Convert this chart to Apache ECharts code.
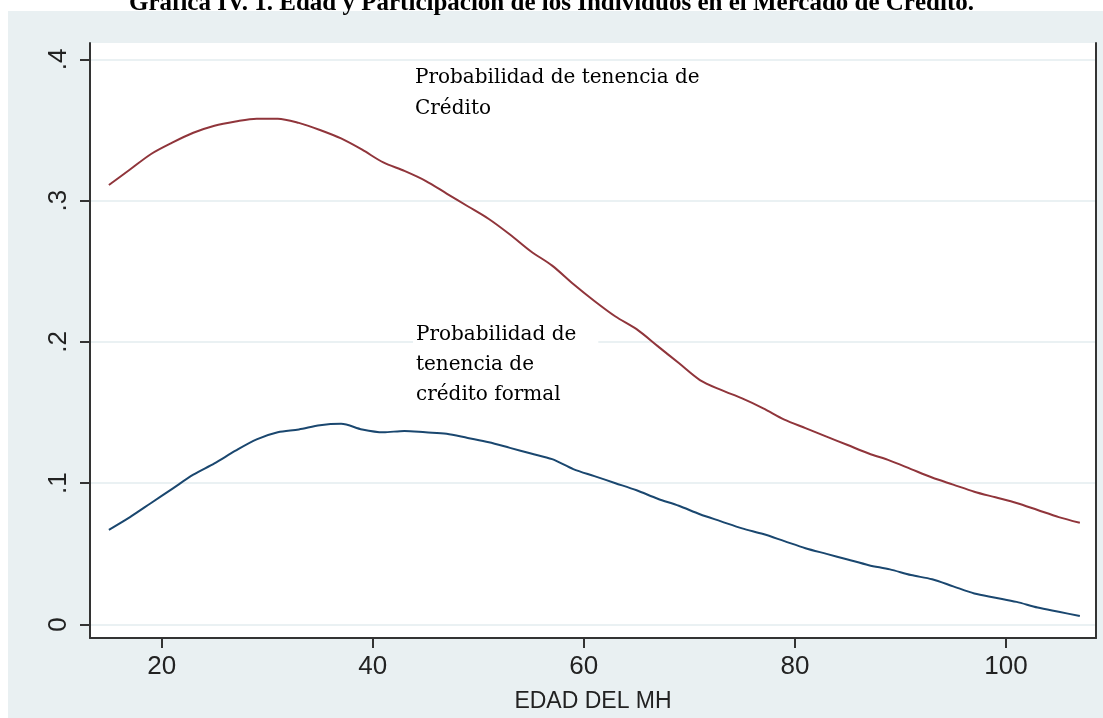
<!DOCTYPE html>
<html>
<head>
<meta charset="utf-8">
<script src="https://cdn.jsdelivr.net/npm/echarts@6/dist/echarts.min.js"></script>
<style>
html,body{margin:0;padding:0;background:#ffffff;}
#bg{position:absolute;left:8px;top:11px;width:1095px;height:707px;background:#e9f0f2;}
#c{position:absolute;left:0;top:0;width:1103px;height:718px;}
</style>
</head>
<body>
<div id="bg"></div>
<div id="c"></div>
<script>
// ---- data ----
const ages = [15,17,19,21,23,25,27,29,31,33,35,37,39,41,43,45,47,49,51,53,55,57,59,61,63,65,67,69,71,73,75,77,79,81,83,85,87,89,91,93,95,97,99,101,103,105,107];
const credito = [0.311,0.322,0.333,0.341,0.348,0.353,0.356,0.358,0.358,0.355,0.350,0.344,0.336,0.327,0.321,0.314,0.305,0.296,0.287,0.276,0.264,0.254,0.241,0.229,0.218,0.209,0.197,0.185,0.173,0.166,0.160,0.153,0.145,0.139,0.133,0.127,0.121,0.116,0.110,0.104,0.099,0.094,0.090,0.086,0.081,0.076,0.072];
const formal = [0.067,0.076,0.086,0.096,0.106,0.114,0.123,0.131,0.136,0.138,0.141,0.142,0.138,0.136,0.137,0.136,0.135,0.132,0.129,0.125,0.121,0.117,0.110,0.105,0.100,0.095,0.089,0.084,0.078,0.073,0.068,0.064,0.059,0.054,0.050,0.046,0.042,0.039,0.035,0.032,0.027,0.022,0.019,0.016,0.012,0.009,0.006];
const xTicks = [20,40,60,80,100];
const yTickLabels = {'0':'0','0.1':'.1','0.2':'.2','0.3':'.3','0.4':'.4'};
const titleText = 'Gráfica IV. 1. Edad y Participación de los Individuos en el Mercado de Crédito.';
const xName = 'EDAD DEL MH';
const annot1 = ['Probabilidad de tenencia de', 'Crédito'];
const annot2 = ['Probabilidad de', 'tenencia de', 'crédito formal'];

const xMin = 13.21, xMax = 108.53;
const axisColor = '#333333';
const sans = '"Liberation Sans", Arial, sans-serif';
const serif = '"DejaVu Serif", serif';

const chart = echarts.init(document.getElementById('c'), null, {renderer: 'canvas'});
chart.setOption({
  backgroundColor: 'transparent',
  animation: false,
  title: {
    text: titleText, left: 'center', top: -14,
    textStyle: {fontFamily: '"Liberation Serif", "Times New Roman", serif', fontWeight: 'bold', fontSize: 25, color: '#000'}
  },
  grid: [
    {left: 90, right: 7, top: 43, bottom: 76, show: true, backgroundColor: '#ffffff', borderWidth: 0},
    {left: 90, right: 7, top: 59.3, bottom: 93.5, show: false}
  ],
  xAxis: [
    {
      gridIndex: 0, type: 'value', min: xMin, max: xMax,
      axisLine: {show: true, lineStyle: {color: axisColor, width: 2}},
      axisTick: {show: true, customValues: xTicks, length: 10, lineStyle: {color: axisColor, width: 2}},
      axisLabel: {show: true, customValues: xTicks, fontFamily: sans, fontSize: 26, color: '#222', margin: 16},
      splitLine: {show: false},
      name: xName, nameLocation: 'middle', nameGap: 52,
      nameTextStyle: {fontFamily: sans, fontSize: 23, color: '#222'}
    },
    {
      gridIndex: 1, type: 'value', min: xMin, max: xMax, show: false
    }
  ],
  yAxis: [
    {
      gridIndex: 0, type: 'value', min: 0, max: 1, position: 'left',
      axisLine: {show: true, lineStyle: {color: axisColor, width: 2}},
      axisTick: {show: false}, axisLabel: {show: false}, splitLine: {show: false}
    },
    {
      gridIndex: 0, type: 'value', min: 0, max: 1, position: 'right',
      axisLine: {show: true, lineStyle: {color: axisColor, width: 2}},
      axisTick: {show: false}, axisLabel: {show: false}, splitLine: {show: false}
    },
    {
      gridIndex: 1, type: 'value', min: 0, max: 0.4, interval: 0.1, position: 'left',
      axisLine: {show: false},
      axisTick: {show: true, length: 10, lineStyle: {color: axisColor, width: 2}},
      axisLabel: {
        show: true, rotate: 90, margin: 18, fontFamily: sans, fontSize: 26, color: '#222',
        formatter: v => yTickLabels[String(Math.round(v * 10) / 10)]
      },
      splitLine: {show: true, lineStyle: {color: '#e3ecef', width: 1.5}}
    }
  ],
  series: [
    {
      type: 'line', xAxisIndex: 1, yAxisIndex: 2, showSymbol: false, smooth: 0.3,
      data: ages.map((a, i) => [a, credito[i]]),
      lineStyle: {color: '#90353b', width: 2}, itemStyle: {color: '#90353b'}, z: 3
    },
    {
      type: 'line', xAxisIndex: 1, yAxisIndex: 2, showSymbol: false, smooth: 0.3,
      data: ages.map((a, i) => [a, formal[i]]),
      lineStyle: {color: '#1a476f', width: 2}, itemStyle: {color: '#1a476f'}, z: 3
    }
  ],
  graphic: [
    {
      type: 'text', x: 415, y: 62, z: 10,
      style: {text: annot1.join('\n'), font: '20px ' + serif, lineHeight: 31, fill: '#000'}
    },
    {
      type: 'text', x: 413, y: 318, z: 10,
      style: {text: annot2.join('\n'), font: '20px ' + serif, lineHeight: 30, fill: '#000',
              backgroundColor: '#ffffff', padding: [2, 22, 2, 3]}
    }
  ]
});
</script>
</body>
</html>
